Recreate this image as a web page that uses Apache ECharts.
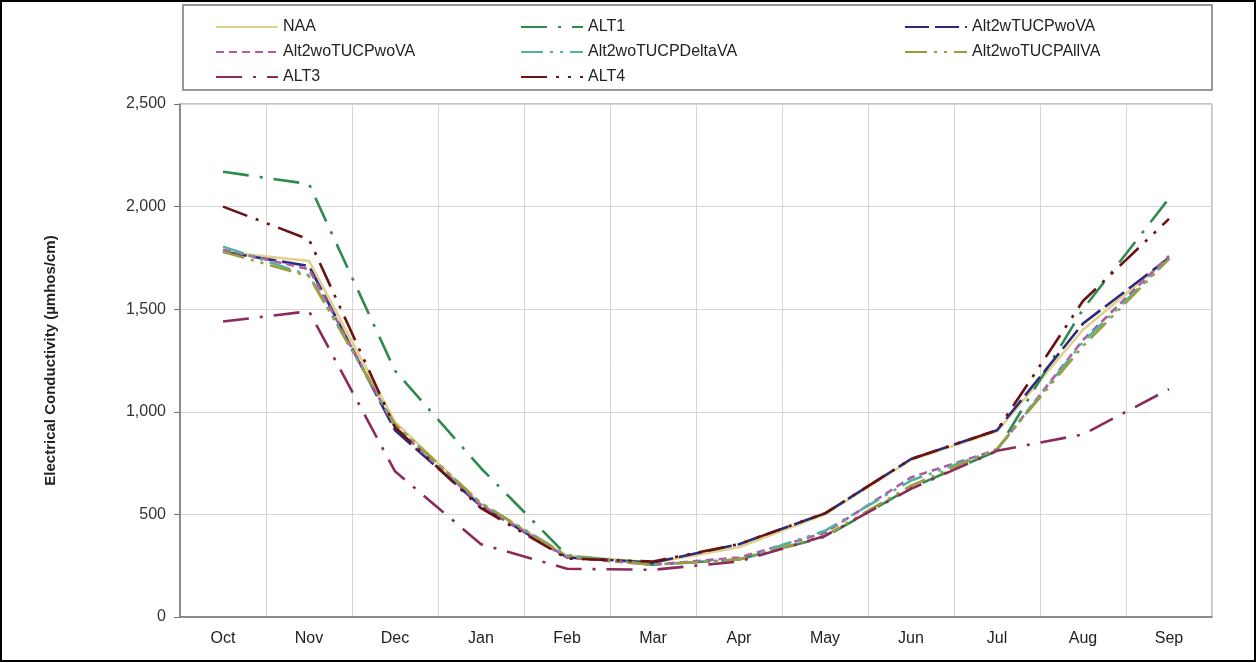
<!DOCTYPE html>
<html>
<head>
<meta charset="utf-8">
<title>Electrical Conductivity</title>
<script src="https://cdn.jsdelivr.net/npm/echarts@6/dist/echarts.min.js"></script>
<style>
  html, body { margin: 0; padding: 0; background: #fff; }
  #chart { width: 1257px; height: 663px; }
</style>
</head>
<body>
<div id="chart"></div>
<script>
// month axis (water year)
const months = ['Oct', 'Nov', 'Dec', 'Jan', 'Feb', 'Mar', 'Apr', 'May', 'Jun', 'Jul', 'Aug', 'Sep'];

// EC values (µmhos/cm)
const naa = [1780, 1735, 950, 550, 300, 265, 340, 500, 765, 905, 1400, 1750];
const alt1 = [2170, 2110, 1200, 725, 300, 255, 280, 390, 630, 810, 1500, 2040];
const alt2wTUCPwoVA = [1780, 1710, 910, 540, 290, 265, 355, 505, 770, 910, 1430, 1750];
const alt2woTUCPwoVA = [1790, 1695, 925, 545, 290, 255, 290, 410, 680, 815, 1350, 1760];
const alt2woTUCPDeltaVA = [1805, 1665, 935, 555, 300, 255, 280, 420, 665, 815, 1340, 1745];
const alt2woTUCPAllVA = [1780, 1660, 940, 555, 295, 255, 280, 395, 640, 820, 1320, 1745];
const alt3 = [1440, 1490, 710, 355, 235, 230, 270, 395, 625, 810, 890, 1110];
const alt4 = [2000, 1840, 925, 530, 285, 270, 355, 505, 770, 910, 1540, 1940];

const font = '"Liberation Sans", Arial, sans-serif';

function line(name, data, color, type) {
  return {
    name: name,
    type: 'line',
    data: data,
    symbol: 'none',
    lineStyle: { color: color, width: 2.6, type: type },
    itemStyle: { color: color },
    emphasis: { disabled: true }
  };
}

function legendCol(left, names) {
  return {
    orient: 'vertical',
    left: left,
    top: 14,
    itemWidth: 62,
    itemHeight: 14,
    itemGap: 9,
    itemStyle: { opacity: 0 },
    textStyle: { fontFamily: font, fontSize: 16, color: '#222' },
    data: names
  };
}

const chart = echarts.init(document.getElementById('chart'));

chart.setOption({
  backgroundColor: '#fff',
  animation: false,
  graphic: [
    {
      type: 'rect',
      shape: { x: 1, y: 1, width: 1254, height: 660 },
      style: { fill: 'none', stroke: '#000', lineWidth: 2 },
      silent: true
    },
    {
      type: 'rect',
      shape: { x: 183, y: 5, width: 1029, height: 85 },
      style: { fill: 'none', stroke: '#777', lineWidth: 1.5 },
      silent: true
    }
  ],
  legend: [
    legendCol(210, ['NAA', 'Alt2woTUCPwoVA', 'ALT3']),
    legendCol(515, ['ALT1', 'Alt2woTUCPDeltaVA', 'ALT4']),
    legendCol(899, ['Alt2wTUCPwoVA', 'Alt2woTUCPAllVA'])
  ],
  grid: {
    left: 180, right: 45, top: 104, bottom: 46,
    show: true, borderColor: '#888', borderWidth: 1
  },
  xAxis: {
    type: 'category',
    data: months,
    boundaryGap: true,
    axisLine: { lineStyle: { color: '#777', width: 1.5 } },
    axisTick: { show: false },
    axisLabel: { fontFamily: font, fontSize: 16, color: '#222', margin: 14 },
    splitLine: { show: true, lineStyle: { color: '#d4d4d4', width: 1 } }
  },
  yAxis: {
    type: 'value',
    min: 0,
    max: 2500,
    interval: 500,
    name: 'Electrical Conductivity (µmhos/cm)',
    nameLocation: 'middle',
    nameGap: 122,
    nameTextStyle: { fontFamily: font, fontSize: 15, fontWeight: 'bold', color: '#222' },
    axisLine: { show: true, lineStyle: { color: '#777', width: 1.5 } },
    axisTick: { show: true, length: 6, lineStyle: { color: '#777' } },
    axisLabel: {
      fontFamily: font, fontSize: 16, color: '#333', margin: 14,
      formatter: v => v.toLocaleString('en-US')
    },
    splitLine: { lineStyle: { color: '#d4d4d4', width: 1 } }
  },
  series: [
    line('NAA', naa, '#e0d28a', 'solid'),
    line('ALT1', alt1, '#2f8a4e', [26, 11, 3, 11]),
    line('Alt2wTUCPwoVA', alt2wTUCPwoVA, '#2b2b7e', [24, 6]),
    line('Alt2woTUCPwoVA', alt2woTUCPwoVA, '#b25aa6', [8, 5]),
    line('Alt2woTUCPDeltaVA', alt2woTUCPDeltaVA, '#4fb3a0', [22, 7, 3, 7, 3, 7]),
    line('Alt2woTUCPAllVA', alt2woTUCPAllVA, '#9e9c3e', [22, 7, 3, 7, 3, 7]),
    line('ALT3', alt3, '#8c2a5c', [26, 11, 3, 11]),
    line('ALT4', alt4, '#6a1212', [26, 9, 3, 9, 3, 9])
  ]
});
</script>
</body>
</html>
